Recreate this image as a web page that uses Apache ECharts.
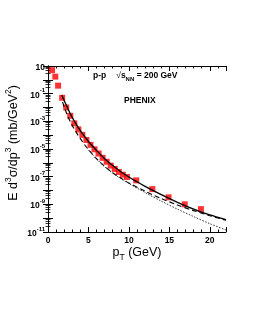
<!DOCTYPE html>
<html><head><meta charset="utf-8">
<script src="https://cdn.jsdelivr.net/npm/echarts@6/dist/echarts.min.js"></script>
<style>html,body{margin:0;padding:0;background:#fff}#c{width:253px;height:327px}</style>
</head><body><div id="c"></div>
<script>
// PHENIX p-p data points
var dataPt  = [0.5, 0.9, 1.25, 1.75, 2.25, 2.75, 3.25, 3.75, 4.25, 4.75, 5.25, 5.75, 6.25, 6.75, 7.25, 7.75, 8.25, 8.75, 9.25, 9.75, 10.9, 12.9, 14.9, 16.9, 18.9];
var dataVal = [5.0, 1.7, 3.8e-1, 5.0e-2, 1.0e-2, 2.5e-3, 7.1e-4, 2.6e-4, 1.05e-4, 4.5e-5, 2.0e-5, 9.5e-6, 4.7e-6, 2.3e-6, 1.2e-6, 6.3e-7, 3.6e-7, 2.2e-7, 1.4e-7, 9.5e-8, 5.4e-8, 1.26e-8, 3.2e-9, 1.0e-9, 4.5e-10];
// solid curve
var solidPt  = [1.7, 2, 2.5, 3, 3.5, 4, 5, 6, 7, 8, 9, 10, 11, 12, 14, 16, 18, 20, 22];
var solidVal = [7.9e-2, 3.2e-2, 7.1e-3, 1.9e-3, 6.0e-4, 2.1e-4, 3.5e-5, 7.9e-6, 2.0e-6, 6.3e-7, 2.3e-7, 9.5e-8, 4.3e-8, 2.0e-8, 5.0e-9, 1.4e-9, 4.5e-10, 1.7e-10, 7.9e-11];
// dashed curve
var dashPt  = [1.8, 2, 2.5, 3, 3.5, 4, 5, 6, 7, 8, 9, 10, 12, 14, 16, 18, 20, 22];
var dashVal = [2.5e-2, 1.1e-2, 2.0e-3, 5.0e-4, 1.6e-4, 5.6e-5, 8.9e-6, 2.0e-6, 5.6e-7, 1.9e-7, 7.9e-8, 3.5e-8, 8.9e-9, 2.6e-9, 9.0e-10, 3.5e-10, 1.5e-10, 7.1e-11];
// dotted curve
var dotPt  = [5, 6, 7, 8, 9, 10, 12, 14, 16, 18, 20, 22];
var dotVal = [8.3e-6, 1.9e-6, 5.2e-7, 1.8e-7, 7.1e-8, 3.2e-8, 7.1e-9, 1.7e-9, 4.5e-10, 1.3e-10, 4.0e-11, 1.4e-11];
// axis ticks
var xTicks = [0, 5, 10, 15, 20];
var yLabelExps = [1, -1, -3, -5, -7, -9, -11];

function zip(a, b) { return a.map(function (v, i) { return [v, b[i]]; }); }

var FONT = '"Liberation Sans", Arial, sans-serif';
var chart = echarts.init(document.getElementById('c'), null, {renderer: 'canvas'});

function xAx(pos, interval, len, showLine, showLabel) {
  return {
    type: 'value', position: pos, min: 0, max: 22, interval: interval,
    axisLine: {show: showLine, lineStyle: {color: '#000', width: 1}},
    axisTick: {show: true, inside: true, length: len, lineStyle: {color: '#000', width: 1}},
    splitLine: {show: false},
    axisLabel: {show: showLabel, margin: 4, color: '#000', fontFamily: FONT, fontWeight: 'bold', fontSize: 8.5,
      formatter: function (v) { return xTicks.indexOf(v) >= 0 ? String(v) : ''; }}
  };
}
function yAx(pos, showLabel) {
  return {
    type: 'log', logBase: 10, position: pos, min: 1e-11, max: 10, interval: 1,
    axisLine: {show: true, lineStyle: {color: '#000', width: 1}},
    axisTick: {show: true, inside: true, length: 5, lineStyle: {color: '#000', width: 1}},
    minorTick: {show: true, splitNumber: 5, length: 2.5, lineStyle: {color: '#000', width: 0.8}},
    splitLine: {show: false},
    axisLabel: {show: showLabel, margin: 3, color: '#000',
      formatter: function (v) {
        var e = Math.round(Math.log10(v));
        if (yLabelExps.indexOf(e) < 0) return '';
        if (e === 1) return '{b|10}';
        return '{b|10}{s|' + e + '}';
      },
      rich: {
        b: {fontFamily: FONT, fontWeight: 'bold', fontSize: 8.5, color: '#000', lineHeight: 12, verticalAlign: 'bottom'},
        s: {fontFamily: FONT, fontWeight: 'bold', fontSize: 6, color: '#000', lineHeight: 12, verticalAlign: 'top'}
      }}
  };
}

chart.setOption({
  animation: false,
  backgroundColor: '#fff',
  grid: {left: 48, top: 66, width: 178, height: 166, containLabel: false},
  xAxis: [xAx('bottom', 5, 5, true, true), xAx('bottom', 1, 2.5, false, false),
          xAx('top', 5, 5, true, false), xAx('top', 1, 2.5, false, false)],
  yAxis: [yAx('left', true), yAx('right', false)],
  graphic: [
    {type: 'text', left: 93, top: 70, z: 100, style: {
      text: '{t|p-p}   {r|\u221A}{t|s}{n|NN}{t| = 200 GeV}',
      rich: {
        t: {fontFamily: FONT, fontWeight: 'bold', fontSize: 8.5, fill: '#000', lineHeight: 12, verticalAlign: 'middle'},
        r: {fontFamily: FONT, fontSize: 8.5, fill: '#000', lineHeight: 12, verticalAlign: 'middle'},
        n: {fontFamily: FONT, fontWeight: 'bold', fontSize: 6, fill: '#000', lineHeight: 12, verticalAlign: 'bottom'}
      }}},
    {type: 'text', left: 124, top: 96, z: 100, style: {
      text: 'PHENIX', font: 'bold 8.5px ' + FONT, fill: '#000'}},
    {type: 'text', x: 12, y: 143, rotation: Math.PI / 2, z: 100, style: {
      text: '{m|E d}{u|3}{m|\u03C3/dp}{u|3}{m| (mb/GeV}{u|2}{m|)}',
      align: 'center', verticalAlign: 'middle',
      rich: {
        m: {fontFamily: FONT, fontSize: 12.5, fill: '#000', lineHeight: 16, verticalAlign: 'bottom'},
        u: {fontFamily: FONT, fontSize: 8.5, fill: '#000', lineHeight: 16, verticalAlign: 'top'}
      }}},
    {type: 'text', x: 137, y: 254, z: 100, style: {
      text: '{m|p}{d|T}{m| (GeV)}', align: 'center', verticalAlign: 'middle',
      rich: {
        m: {fontFamily: FONT, fontSize: 12.5, fill: '#000', lineHeight: 16, verticalAlign: 'top'},
        d: {fontFamily: FONT, fontSize: 8.5, fill: '#000', lineHeight: 16, verticalAlign: 'bottom'}
      }}}
  ],
  series: [
    {type: 'scatter', name: 'PHENIX', data: zip(dataPt, dataVal), symbol: 'rect', symbolSize: 6,
      itemStyle: {color: '#ff0000'}, z: 2},
    {type: 'line', data: zip(solidPt, solidVal), smooth: 0.3, showSymbol: false,
      lineStyle: {color: '#000', width: 1.3, type: 'solid'}, z: 5},
    {type: 'line', data: zip(dashPt, dashVal), smooth: 0.3, showSymbol: false,
      lineStyle: {color: '#000', width: 1.1, type: [5, 3]}, z: 5},
    {type: 'line', data: zip(dotPt, dotVal), smooth: 0.3, showSymbol: false,
      lineStyle: {color: '#333', width: 1, type: [1.5, 1.5]}, z: 5}
  ]
});
</script></body></html>
